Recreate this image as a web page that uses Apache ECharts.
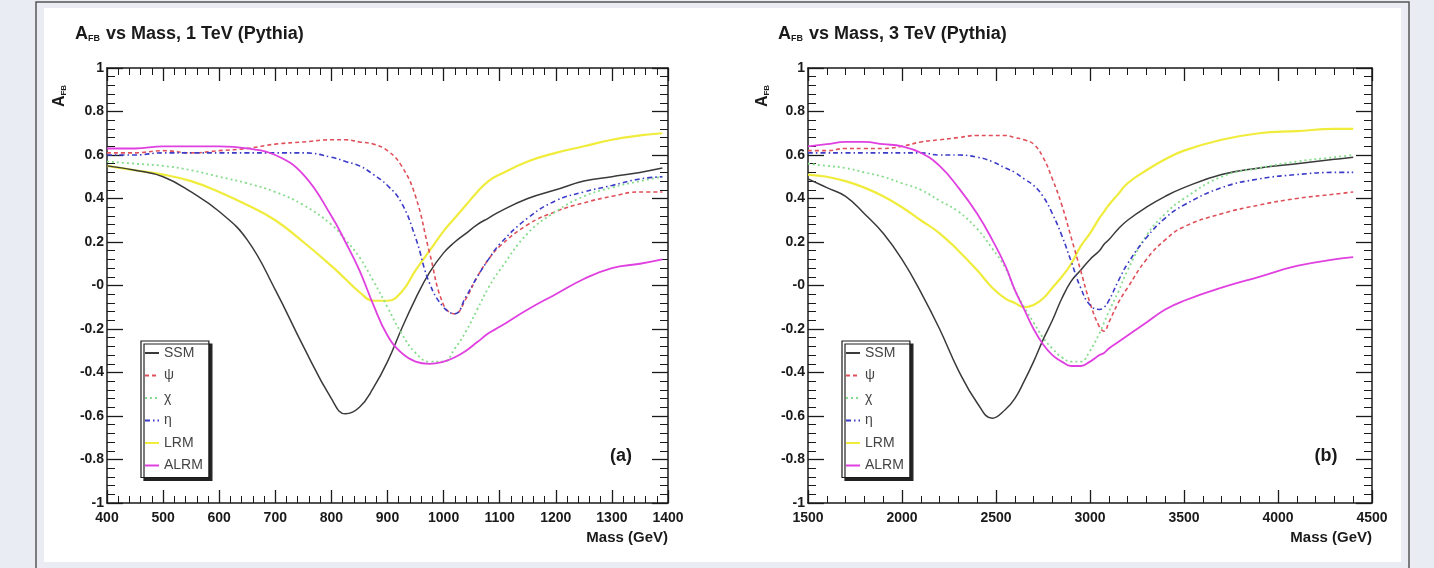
<!DOCTYPE html>
<html>
<head>
<meta charset="utf-8">
<script src="https://cdn.jsdelivr.net/npm/echarts@6/dist/echarts.min.js"></script>
<style>
html, body { margin: 0; padding: 0; background: #e9edf3; }
#main { width: 1434px; height: 568px; }
</style>
</head>
<body>
<div id="main"></div>
<script>
// --- data ---
const seriesNames = ["SSM", "ψ", "χ", "η", "LRM", "ALRM"]

// (a) 1 TeV
const mass1 = [400, 450, 500, 550, 600, 650, 700, 750, 800, 825, 850, 875, 900, 925, 950, 975, 1000, 1020, 1040, 1060, 1080, 1100, 1150, 1200, 1250, 1300, 1350, 1390]
const ssm1  = [0.55, 0.53, 0.50, 0.43, 0.34, 0.21, -0.02, -0.28, -0.52, -0.59, -0.56, -0.47, -0.35, -0.20, -0.06, 0.06, 0.15, 0.20, 0.24, 0.28, 0.31, 0.34, 0.40, 0.44, 0.48, 0.50, 0.52, 0.54]
const psi1  = [0.61, 0.61, 0.62, 0.61, 0.62, 0.63, 0.65, 0.66, 0.67, 0.67, 0.66, 0.65, 0.62, 0.55, 0.41, 0.15, -0.09, -0.13, -0.06, 0.04, 0.12, 0.18, 0.28, 0.34, 0.38, 0.41, 0.43, 0.43]
const chi1  = [0.57, 0.56, 0.55, 0.53, 0.50, 0.47, 0.43, 0.37, 0.28, 0.21, 0.13, 0.02, -0.10, -0.22, -0.31, -0.35, -0.35, -0.29, -0.21, -0.11, -0.01, 0.07, 0.24, 0.34, 0.41, 0.45, 0.48, 0.50]
const eta1  = [0.60, 0.60, 0.61, 0.61, 0.61, 0.61, 0.61, 0.61, 0.59, 0.57, 0.55, 0.51, 0.46, 0.38, 0.22, 0.01, -0.10, -0.13, -0.05, 0.04, 0.12, 0.19, 0.31, 0.39, 0.43, 0.46, 0.49, 0.50]
const lrm1  = [0.55, 0.53, 0.51, 0.48, 0.43, 0.37, 0.30, 0.20, 0.09, 0.03, -0.03, -0.07, -0.07, -0.03, 0.07, 0.16, 0.25, 0.31, 0.37, 0.43, 0.48, 0.51, 0.57, 0.61, 0.64, 0.67, 0.69, 0.70]
const alrm1 = [0.63, 0.63, 0.64, 0.64, 0.64, 0.63, 0.60, 0.51, 0.32, 0.20, 0.07, -0.09, -0.23, -0.31, -0.35, -0.36, -0.35, -0.33, -0.30, -0.26, -0.22, -0.19, -0.11, -0.04, 0.03, 0.08, 0.10, 0.12]

// (b) 3 TeV
const mass3 = [1500, 1600, 1700, 1800, 1900, 2000, 2100, 2200, 2300, 2400, 2480, 2550, 2600, 2650, 2700, 2750, 2800, 2850, 2900, 2950, 3000, 3050, 3075, 3100, 3150, 3200, 3300, 3400, 3500, 3700, 3900, 4100, 4300, 4400]
const ssm3  = [0.49, 0.45, 0.41, 0.33, 0.24, 0.12, -0.03, -0.20, -0.39, -0.54, -0.61, -0.57, -0.52, -0.44, -0.35, -0.25, -0.16, -0.06, 0.02, 0.07, 0.12, 0.16, 0.19, 0.21, 0.26, 0.30, 0.36, 0.41, 0.45, 0.51, 0.54, 0.56, 0.58, 0.59]
const psi3  = [0.62, 0.62, 0.63, 0.63, 0.63, 0.64, 0.66, 0.67, 0.68, 0.69, 0.69, 0.69, 0.68, 0.67, 0.65, 0.59, 0.49, 0.37, 0.22, 0.07, -0.08, -0.19, -0.21, -0.17, -0.08, -0.01, 0.12, 0.21, 0.27, 0.33, 0.37, 0.40, 0.42, 0.43]
const chi3  = [0.56, 0.55, 0.54, 0.52, 0.50, 0.47, 0.44, 0.39, 0.34, 0.26, 0.17, 0.08, -0.02, -0.10, -0.17, -0.24, -0.29, -0.33, -0.35, -0.35, -0.30, -0.22, -0.17, -0.12, -0.03, 0.07, 0.23, 0.33, 0.40, 0.50, 0.54, 0.57, 0.59, 0.60]
const eta3  = [0.61, 0.61, 0.61, 0.61, 0.61, 0.61, 0.61, 0.60, 0.60, 0.59, 0.57, 0.54, 0.52, 0.49, 0.46, 0.41, 0.33, 0.23, 0.11, -0.01, -0.09, -0.11, -0.10, -0.07, 0.02, 0.10, 0.22, 0.31, 0.37, 0.45, 0.49, 0.51, 0.52, 0.52]
const lrm3  = [0.51, 0.50, 0.48, 0.45, 0.41, 0.36, 0.30, 0.24, 0.16, 0.07, -0.01, -0.06, -0.08, -0.10, -0.09, -0.06, -0.01, 0.04, 0.10, 0.18, 0.24, 0.31, 0.34, 0.37, 0.42, 0.47, 0.53, 0.58, 0.62, 0.67, 0.70, 0.71, 0.72, 0.72]
const alrm3 = [0.64, 0.65, 0.66, 0.66, 0.65, 0.64, 0.61, 0.55, 0.45, 0.33, 0.21, 0.09, -0.02, -0.11, -0.20, -0.27, -0.32, -0.35, -0.37, -0.37, -0.35, -0.32, -0.31, -0.29, -0.26, -0.23, -0.17, -0.11, -0.07, -0.01, 0.04, 0.09, 0.12, 0.13]

// tick labels of the A_FB axis (ROOT prints "-0" at zero)
const yTicks = [-1, -0.8, -0.6, -0.4, -0.2, 0, 0.2, 0.4, 0.6, 0.8, 1]
const yTickLabels = ["-1", "-0.8", "-0.6", "-0.4", "-0.2", "-0", "0.2", "0.4", "0.6", "0.8", "1"]

// --- styles ---
const FONT = '"Liberation Sans Narrow", "Liberation Sans", Arial, sans-serif'
const INK = "#1a1a1a"
const lineStyles = [
	{ color: "#3a3a3a", width: 1.5, type: "solid" },
	{ color: "#e0505a", width: 1.6, type: [4, 3] },
	{ color: "#86dc8c", width: 1.8, type: [2, 3] },
	{ color: "#3b3bc8", width: 1.6, type: [5, 3, 1.5, 3] },
	{ color: "#f0ec3c", width: 2.2, type: "solid" },
	{ color: "#e040e0", width: 1.8, type: "solid" },
]

const zip = (xs, ys) => xs.map((x, i) => [x, ys[i]])

const makeSeries = (xs, ysList, axisIdx) =>
	ysList.map((ys, i) => ({
		name: seriesNames[i],
		type: "line",
		xAxisIndex: axisIdx,
		yAxisIndex: axisIdx,
		data: zip(xs, ys),
		showSymbol: false,
		symbol: "none",
		smooth: 0.45,
		lineStyle: lineStyles[i],
		itemStyle: { color: lineStyles[i].color },
		z: i === 4 ? 2 : 3,
		animation: false,
	}))

const yLabel = v => {
	const k = yTicks.findIndex(t => Math.abs(t - v) < 1e-6)
	return k >= 0 ? yTickLabels[k] : ""
}

const frameLine = { show: true, onZero: false, lineStyle: { color: INK, width: 1.5 } }

const makeX = (grid, position, min, max, interval, labels) => ({
	type: "value",
	gridIndex: grid,
	position,
	min,
	max,
	interval,
	axisLine: frameLine,
	axisTick: { show: true, inside: true, length: 13, lineStyle: { color: INK, width: 1.3 } },
	minorTick: { show: true, splitNumber: 5, length: 7, lineStyle: { color: INK, width: 1 } },
	splitLine: { show: false },
	axisLabel: {
		show: labels,
		margin: 8,
		color: INK,
		fontFamily: FONT,
		fontSize: 14,
		fontWeight: "bold",
		formatter: v => String(v),
	},
	name: labels ? "Mass (GeV)" : "",
	nameLocation: "end",
	nameGap: 0,
	nameTextStyle: {
		align: "right",
		verticalAlign: "top",
		padding: [27, 0, 0, 0],
		color: INK,
		fontFamily: FONT,
		fontSize: 15,
		fontWeight: "bold",
	},
})

const makeY = (grid, position, labels) => ({
	type: "value",
	gridIndex: grid,
	position,
	min: -1,
	max: 1,
	interval: 0.2,
	axisLine: frameLine,
	axisTick: { show: true, inside: true, length: 16, lineStyle: { color: INK, width: 1.3 } },
	minorTick: { show: true, splitNumber: 5, length: 8, lineStyle: { color: INK, width: 1 } },
	splitLine: { show: false },
	axisLabel: {
		show: labels,
		margin: 3,
		color: INK,
		fontFamily: FONT,
		fontSize: 14,
		fontWeight: "bold",
		formatter: yLabel,
	},
})

const titleRich = {
	a: { fontFamily: FONT, fontSize: 18, fontWeight: "bold", color: INK },
	s: { fontFamily: FONT, fontSize: 9, fontWeight: "bold", color: INK, verticalAlign: "bottom", padding: [8, 1, 0, 0] },
}

const legendBox = left => ({
	data: seriesNames,
	orient: "vertical",
	left,
	top: 341,
	itemGap: 6.5,
	itemWidth: 14,
	itemHeight: 10,
	padding: [4, 6, 4, 3],
	backgroundColor: "#fff",
	borderColor: INK,
	borderWidth: 1.2,
	borderRadius: 0,
	shadowColor: "#222",
	shadowBlur: 0,
	shadowOffsetX: 3,
	shadowOffsetY: 3,
	selectedMode: false,
	itemStyle: { opacity: 0 },
	textStyle: { fontFamily: FONT, fontSize: 14, color: "#444", lineHeight: 16 },
})

const yName = x => ({
	type: "text",
	x,
	y: 96,
	rotation: Math.PI / 2,
	style: {
		text: "{a|A}{s|FB}",
		align: "center",
		verticalAlign: "middle",
		rich: {
			a: { fontFamily: FONT, fontSize: 16, fontWeight: "bold", fill: INK },
			s: { fontFamily: FONT, fontSize: 8, fontWeight: "bold", fill: INK, verticalAlign: "bottom", padding: [7, 0, 0, 0] },
		},
	},
})

const tag = (x, text) => ({
	type: "text",
	x,
	y: 456,
	style: { text, align: "center", verticalAlign: "middle", fontFamily: FONT, fontSize: 18, fontWeight: "bold", fill: INK },
})

const option = {
	backgroundColor: "#e9edf3",
	animation: false,
	title: [
		{ left: 70, top: 20, text: "{a|A}{s|FB}{a| vs Mass, 1 TeV (Pythia)}", textStyle: { rich: titleRich } },
		{ left: 773, top: 20, text: "{a|A}{s|FB}{a| vs Mass, 3 TeV (Pythia)}", textStyle: { rich: titleRich } },
	],
	legend: [legendBox(141), legendBox(842)],
	grid: [
		{ left: 107, top: 68, width: 561, height: 435 },
		{ left: 808, top: 68, width: 564, height: 435 },
	],
	xAxis: [
		makeX(0, "bottom", 400, 1400, 100, true),
		makeX(0, "top", 400, 1400, 100, false),
		makeX(1, "bottom", 1500, 4500, 500, true),
		makeX(1, "top", 1500, 4500, 500, false),
	],
	yAxis: [
		makeY(0, "left", true),
		makeY(0, "right", false),
		makeY(1, "left", true),
		makeY(1, "right", false),
	],
	graphic: [
		{
			type: "rect",
			z: -20,
			silent: true,
			shape: { x: 36, y: 2, width: 1373, height: 580 },
			style: { fill: "#e9edf3", stroke: "#555", lineWidth: 1.5 },
		},
		{
			type: "rect",
			z: -10,
			silent: true,
			shape: { x: 44, y: 8, width: 1357, height: 554 },
			style: { fill: "#fff" },
		},
		yName(60),
		yName(763),
		tag(621, "(a)"),
		tag(1326, "(b)"),
	],
	series: [
		...makeSeries(mass1, [ssm1, psi1, chi1, eta1, lrm1, alrm1], 0),
		...makeSeries(mass3, [ssm3, psi3, chi3, eta3, lrm3, alrm3], 2),
	],
}

const chart = echarts.init(document.getElementById("main"))
chart.setOption(option)
</script>
</body>
</html>
